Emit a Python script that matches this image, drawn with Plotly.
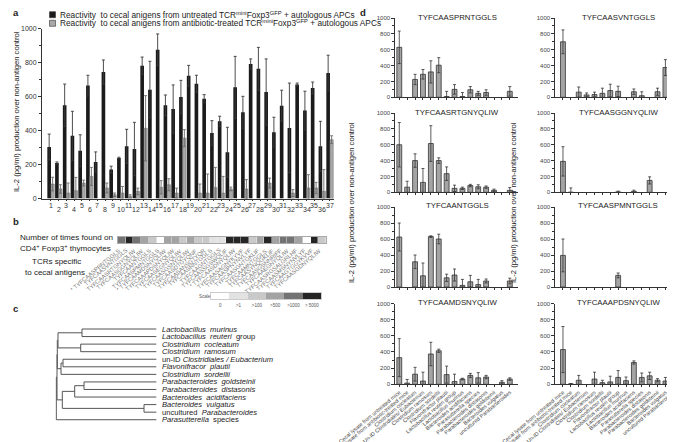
import plotly.graph_objects as go

W, H = 675, 442
FONT = "Liberation Sans, Arial, sans-serif"
TXT = "#222222"
SP = "\u00a0 "


def fx(p):
    return p / W


def fy(p):
    return 1 - p / H


# ---------------- Panel a data ----------------
tcr_numbers = list(range(1, 38))
untreated_il2 = [303, 209, 548, 369, 281, 664, 215, 744, 170, 238, 307, 291, 781, 640, 875, 548, 526,
                 597, 722, 675, 587, 385, 454, 272, 654, 507, 791, 763, 626, 390, 546, 415, 670, 517,
                 650, 307, 738]
untreated_err = [76, 6, 125, 144, 94, 61, 59, 71, 20, 5, 100, 157, 51, 167, 93, 61, 142, 98, 61, 50,
                 24, 73, 30, 147, 182, 94, 30, 126, 195, 88, 91, 264, 9, 114, 35, 147, 105]
antibiotic_il2 = [85, 56, 32, 46, 91, 130, None, 62, 22, 32, 13, 42, 413, None, 66, 81, 32, 355, None,
                  32, 32, 65, 32, 56, None, 56, None, None, 91, None, None, 32, None, 62, 62, 42, 346]
antibiotic_err = [40, 25, 59, 78, 17, 53, None, 29, 10, 39, 9, 19, 192, None, 39, 35, 29, 50, None,
                  53, 112, 118, 98, 11, None, 55, None, None, 29, None, None, 20, None, 78, 33, 128, 23]
legend_labels = [
    "Reactivity" + SP + "to cecal anigens from untreated TCR<sup>mini</sup>Foxp3<sup>GFP</sup> + autologous APCs",
    "Reactivity" + SP + "to cecal anigens from antibiotic-treated TCR<sup>mini</sup>Foxp3<sup>GFP</sup> + autologous APCs",
]

# ---------------- Panel b data ----------------
thymocyte_level = [4, 5, 4, 3, 2, 0, 3, 3, 2, 3, 2, 2, 1, 1, 5, 5, 5, 2, 3, 5, 3, 4, 4, 3, 0, 5, 2]
tcr_sequences = [
    "* TYFCAASPRNTGGLS", "TYFCAASVNTGGLS", "TYFCAASRTGNYQLIW", "TYFCAASGGNYQLIW", "TYFCAANTGGLS",
    "TYFCAASPMNTGGLS", "* TYFCAAMDSNYQLIW", "TYFCAAAPDSNYQLIW", "TYFCAASEGNYQLIW", "TYFCAASGSNYQLIW",
    "TYFCAASDTGYQNF", "TYFCAASANSGTYQR", "TYFCAASRNTGGLS", "TYFCAAGNTGGLS", "TYFCAASSGSWQLIF",
    "* TYFCAASDNYQLIW", "TYFCAASAGNYKYVF", "TYFCAASPNYNVLYF", "TYFCAASGNTGKLIF", "TYFCAAMNTGGLS",
    "TYFCAASYNQGKLIF", "TYFCAASGSNNRIFF", "TYFCAAEGNYQLIW", "TYFCAASRGSALGRLHF", "TYFCAASMSNYNVLYF",
    "TYFCAAGTGGYKVVF", "TYFCAASGDNYQLIW"]
scale_levels = [0, 1, 2, 3, 4, 5]
scale_labels = ["0", ">1", ">100", ">500", ">1000", "> 5000"]
level_colors = ["#ffffff", "#e2e2e2", "#c9c9c9", "#a3a3a3", "#737373", "#252525"]

# ---------------- Panel c data ----------------
taxa = [
    "<i>Lactobacillus" + SP + "murinus</i>",
    "<i>Lactobacillus" + SP + "reuteri</i>" + SP + "group",
    "<i>Clostridium" + SP + "cocleatum</i>",
    "<i>Clostridium" + SP + "ramosum</i>",
    "un-ID <i>Clostridiales / Eubacterium</i>",
    "<i>Flavonifracor" + SP + "plautii</i>",
    "<i>Clostridium" + SP + "sordellii</i>",
    "<i>Parabacteroides" + SP + "goldsteinii</i>",
    "<i>Parabacteroides" + SP + "distasonis</i>",
    "<i>Bacteroides" + SP + "acidifaciens</i>",
    "<i>Bacteroides" + SP + "vulgatus</i>",
    "uncultured" + SP + "<i>Parabacteroides</i>",
    "<i>Parasutterella</i>" + SP + "species",
]
# merges: (child_a, child_b, height); children < 13 are leaves, otherwise 13+k = merge k
merges = [
    (0, 1, 74.3),
    (2, 3, 75.6),
    (13, 14, 98.3),
    (4, 5, 93.3),
    (16, 6, 95.3),
    (15, 17, 99.0),
    (7, 8, 72.3),
    (19, 9, 81.6),
    (10, 11, 12.3),
    (20, 21, 94.0),
    (18, 22, 99.3),
    (23, 12, 100.0),
]

# ---------------- Panel d data ----------------
antigen_sources = [
    "Cecal lysate from untreated mice", "Cecal lysate from antibiotic-treated mice",
    "Clostridium cocleatum", "Un-ID Clostridiales/ Eubacterium", "Clostridium ramosum",
    "Clostridium sordellii", "Flavonifractor plautii", "Lactobacillus reuteri group",
    "Lactobacillus murinus", "Bacteroides acidifaciens", "Parasutterella species",
    "Parabacteroides distasonis", "Parabacteroides goldsteinii", "Bacteroides vulgatus",
    "uncultured Parabacteroides"]
d_titles = ["TYFCAASPRNTGGLS", "TYFCAASVNTGGLS", "TYFCAASRTGNYQLIW", "TYFCAASGGNYQLIW",
            "TYFCAANTGGLS", "TYFCAASPMNTGGLS", "TYFCAAMDSNYQLIW", "TYFCAAAPDSNYQLIW"]
d_values = [
    [630, None, 225, 290, 320, 405, 10, 100, 10, 95, 50, 60, None, None, 75],
    [700, None, 65, 30, 35, 50, 85, 75, None, 70, 20, None, 70, 375, 70],
    [600, 65, 400, 125, 615, 400, 235, 50, 50, 85, 70, 65, 25, None, 25],
    [390, 0, None, None, None, None, None, 5, None, 12, None, 150, None, None, None],
    [625, None, 315, 140, 630, 600, 115, 150, 20, 65, 30, 75, None, None, 75],
    [395, None, None, None, None, None, None, 145, None, None, None, None, None, None, None],
    [330, 15, 125, 40, 375, 415, 120, 35, 65, 110, 80, 90, None, 25, 65],
    [430, 5, 50, None, 65, 20, 30, 85, 45, 270, 85, 105, 50, 40, 50],
]
d_errors = [
    [205, None, 65, 60, 140, 95, 65, 60, 50, 40, 25, 35, None, None, 60],
    [150, None, 65, 25, 30, 65, 80, 65, None, 35, 50, None, 45, 100, 30],
    [280, 75, 85, 175, 225, 35, 85, 40, 15, 15, 25, 15, 15, None, 35],
    [185, 55, None, None, None, None, None, 10, None, 15, None, 45, None, None, None],
    [175, None, 85, 160, 10, 60, 45, 75, 75, 80, 65, 25, None, None, 35],
    [205, None, None, None, None, None, None, 30, None, None, None, None, None, None, None],
    [235, 45, 85, 110, 145, 20, 105, 90, 10, 25, 65, 20, None, 20, 15],
    [285, 5, 60, None, 85, 30, 70, 85, 45, 20, 55, 45, 20, 45, 50],
]

y_title = "IL-2 (pg/ml) production over non-antigen control"

# ---------------- figure ----------------
fig = go.Figure()
layout = dict(
    template="none",
    width=W, height=H, autosize=False, margin=dict(l=0, r=0, t=0, b=0, pad=0),
    paper_bgcolor="white", plot_bgcolor="rgba(0,0,0,0)",
    showlegend=False, barmode="overlay",
    font=dict(family=FONT, color=TXT, size=7),
)
annotations = []
shapes = []


def ann(text, x, y, size=7.5, xanchor="center", yanchor="middle", color=TXT, **kw):
    d = dict(text=text, x=fx(x), y=fy(y), xref="paper", yref="paper", showarrow=False,
             xanchor=xanchor, yanchor=yanchor, font=dict(family=FONT, size=size, color=color))
    d.update(kw)
    annotations.append(d)


# ---- panel a ----
fig.add_trace(go.Bar(
    x=tcr_numbers, y=untreated_il2, width=0.47, offset=-0.47,
    marker=dict(color="#1b1b1b", line=dict(width=0)),
    error_y=dict(type="data", array=untreated_err, color="#3a3a3a", thickness=0.9, width=1.5),
    xaxis="x", yaxis="y"))
fig.add_trace(go.Bar(
    x=tcr_numbers, y=antibiotic_il2, width=0.42, offset=0.0,
    marker=dict(color="#a9a9a9", line=dict(width=0.5, color="#666666")),
    error_y=dict(type="data", array=antibiotic_err, color="#6a6a6a", thickness=0.9, width=1.5),
    xaxis="x", yaxis="y"))

a_x0, a_x1, a_top, a_bot = 34, 326, 20.5, 190.5
layout["xaxis"] = dict(domain=[fx(a_x0), fx(a_x1)], range=[-0.16, 37.52], anchor="y",
                       automargin=False,
                       showline=True, linecolor="#333", linewidth=0.9, ticks="outside", ticklen=2,
                       tickcolor="#333", tickvals=tcr_numbers, showticklabels=False,
                       showgrid=False, zeroline=False)
layout["yaxis"] = dict(domain=[fy(a_bot), fy(a_top)], range=[0, 1000], anchor="x",
                       automargin=False,
                       showline=True, linecolor="#333", linewidth=0.9, ticks="outside", ticklen=3,
                       tickcolor="#333", tickvals=[0, 200, 400, 600, 800, 1000],
                       tickfont=dict(size=7, color="#333"),
                       minor=dict(ticks="outside", ticklen=2, dtick=100, tickcolor="#333"),
                       showgrid=False, zeroline=False)
for n in tcr_numbers:
    annotations.append(dict(text=str(n), x=n, y=fy(a_bot), xref="x", yref="paper",
                            showarrow=False, xanchor="center", yanchor="middle",
                            yshift=-6.8 if n % 2 else -11.0,
                            font=dict(family=FONT, size=7, color="#333")))
ann(y_title, 8, 104, size=7.6, textangle=-90)
ann("<b>a</b>", 3, 5, size=9.5, xanchor="left")
for i, (lab, col) in enumerate(zip(legend_labels, ["#1b1b1b", "#a9a9a9"])):
    yc = 6.7 + 8.6 * i
    shapes.append(dict(type="rect", xref="paper", yref="paper", x0=fx(41.5), x1=fx(47.5),
                       y0=fy(yc + 3), y1=fy(yc - 3), fillcolor=col, line=dict(color="#333", width=0.6)))
    ann(lab, 50, yc, size=8.3, xanchor="left")

# ---- panel b ----
cells = list(range(1, len(thymocyte_level) + 1))
colorscale = []
for i, c in enumerate(level_colors):
    colorscale += [[i / 6, c], [(i + 1) / 6, c]]
fig.add_trace(go.Heatmap(z=[thymocyte_level], x=cells, y=[0], colorscale=colorscale,
                         zmin=-0.5, zmax=5.5, showscale=False, xgap=0.4,
                         xaxis="x2", yaxis="y2", hoverinfo="skip"))
s_x0, s_x1, s_top, s_bot = 110, 318, 228.5, 235.2
layout["xaxis2"] = dict(domain=[fx(s_x0), fx(s_x1)], range=[0.5, len(cells) + 0.5], anchor="y2",
                        automargin=False,
                        showline=True, mirror=True, linecolor="#aaa", linewidth=0.6,
                        showticklabels=False, ticks="", showgrid=False, zeroline=False)
layout["yaxis2"] = dict(domain=[fy(s_bot), fy(s_top)], range=[-0.5, 0.5], anchor="x2",
                        automargin=False,
                        showline=True, mirror=True, linecolor="#aaa", linewidth=0.6,
                        showticklabels=False, ticks="", showgrid=False, zeroline=False)
for c, seq in zip(cells, tcr_sequences):
    annotations.append(dict(text=seq, x=c + 0.3, y=fy(s_bot + 1.5), xref="x2", yref="paper",
                            showarrow=False, xanchor="right", yanchor="top", textangle=-40,
                            font=dict(family=FONT, size=5.8, color="#7a7a7a")))

fig.add_trace(go.Heatmap(z=[scale_levels], x=list(range(len(scale_levels))), y=[0],
                         colorscale=colorscale, zmin=-0.5, zmax=5.5, showscale=False,
                         xaxis="x3", yaxis="y3", hoverinfo="skip"))
layout["xaxis3"] = dict(domain=[fx(203), fx(313)], range=[-0.5, 5.5], anchor="y3",
                        automargin=False,
                        showline=True, mirror=True, linecolor="#ccc", linewidth=0.5,
                        tickvals=list(range(len(scale_levels))), ticktext=scale_labels,
                        tickfont=dict(size=4.5, color="#555"), ticks="", ticklabelstandoff=2,
                        showgrid=False, zeroline=False)
layout["yaxis3"] = dict(domain=[fy(291), fy(285)], range=[-0.5, 0.5], anchor="x3",
                        automargin=False,
                        showline=True, mirror=True, linecolor="#ccc", linewidth=0.5,
                        showticklabels=False, ticks="", showgrid=False, zeroline=False)
ann("Scale", 197, 288, size=4.5, color="#555")

ann("<b>b</b>", 3, 213, size=9.5, xanchor="left")
ann("Number of times found on", 10, 229, size=8.1, xanchor="left")
ann("CD4<sup>+</sup> Foxp3<sup>+</sup> thymocytes", 10, 240, size=8.1, xanchor="left")
ann("TCRs specific", 48, 254, size=8)
ann("to cecal antigens", 47, 264, size=8)

# ---- panel c : dendrogram ----
n_leaves = len(taxa)
node_y = {i: float(i) for i in range(n_leaves)}
node_h = {i: 0.0 for i in range(n_leaves)}
lx, ly = [], []
for k, (a, b, h) in enumerate(merges):
    nid = n_leaves + k
    for ch in (a, b):
        lx += [node_h[ch], h, None]
        ly += [node_y[ch], node_y[ch], None]
    lx += [h, h, None]
    ly += [node_y[a], node_y[b], None]
    node_y[nid] = (node_y[a] + node_y[b]) / 2
    node_h[nid] = h
fig.add_trace(go.Scatter(x=lx, y=ly, mode="lines", line=dict(color="#555", width=1),
                         xaxis="x4", yaxis="y4", hoverinfo="skip"))
leaf_px0, leaf_step = 321.0, 7.56
layout["xaxis4"] = dict(domain=[fx(47.3), fx(149.3)], range=[101, -1], anchor="y4", visible=False,
                        automargin=False)
layout["yaxis4"] = dict(domain=[fy(leaf_px0 + 12.3 * leaf_step), fy(leaf_px0 - 0.3 * leaf_step)],
                        range=[12.3, -0.3], anchor="x4", visible=False, automargin=False)
for i, t in enumerate(taxa):
    annotations.append(dict(text=t, x=fx(152), y=i, xref="paper", yref="y4", showarrow=False,
                            xanchor="left", yanchor="middle",
                            font=dict(family=FONT, size=7.6, color=TXT)))
ann("<b>c</b>", 3, 300, size=9.5, xanchor="left")

# ---- panel d ----
src_pos = list(range(1, len(antigen_sources) + 1))
col_dom = [(386.7, 510.0), (546.7, 672.0)]
col_rng = [[0.42, 16.04], [-0.05, 15.85]]
row_px = [(10.0, 89.3), (105.0, 184.3), (199.0, 279.0), (295.5, 376.3)]
for i in range(8):
    r, c = divmod(i, 2)
    ax = 5 + i
    xs, ys = f"x{ax}", f"y{ax}"
    fig.add_trace(go.Bar(
        x=src_pos, y=d_values[i], width=0.62,
        marker=dict(color="#a4a4a4", line=dict(color="#333", width=0.8)),
        error_y=dict(type="data", array=d_errors[i], color="#333", thickness=0.8, width=1.5),
        xaxis=xs, yaxis=ys))
    top, bot = row_px[r]
    x0, x1 = col_dom[c]
    layout[f"xaxis{ax}"] = dict(domain=[fx(x0), fx(x1)], range=col_rng[c], anchor=ys,
                                automargin=False,
                                showline=True, linecolor="#333", linewidth=0.8, ticks="outside",
                                ticklen=2, tickcolor="#333", tickvals=src_pos,
                                ticktext=antigen_sources, showticklabels=(r == 3), tickangle=-40,
                                tickfont=dict(size=5.4, color="#444"),
                                showgrid=False, zeroline=False)
    layout[f"yaxis{ax}"] = dict(domain=[fy(bot), fy(top)], range=[0, 1000], anchor=xs,
                                automargin=False,
                                showline=True, linecolor="#333", linewidth=0.8, ticks="outside",
                                ticklen=2.5, tickcolor="#333",
                                tickvals=[0, 200, 400, 600, 800, 1000],
                                tickfont=dict(size=6, color="#444"),
                                minor=dict(ticks="outside", ticklen=1.5, dtick=100, tickcolor="#333"),
                                showgrid=False, zeroline=False)
    ann(d_titles[i], (x0 + x1) / 2 + 1, top - 1, size=7.8)
ann("<b>d</b>", 350, 5, size=9.5, xanchor="left")
ann(y_title, 343, 195, size=7.6, textangle=-90)
ann(y_title, 505, 195, size=7.6, textangle=-90)

layout["annotations"] = annotations
layout["shapes"] = shapes
fig.update_layout(**layout)
fig.write_html("out.html")
